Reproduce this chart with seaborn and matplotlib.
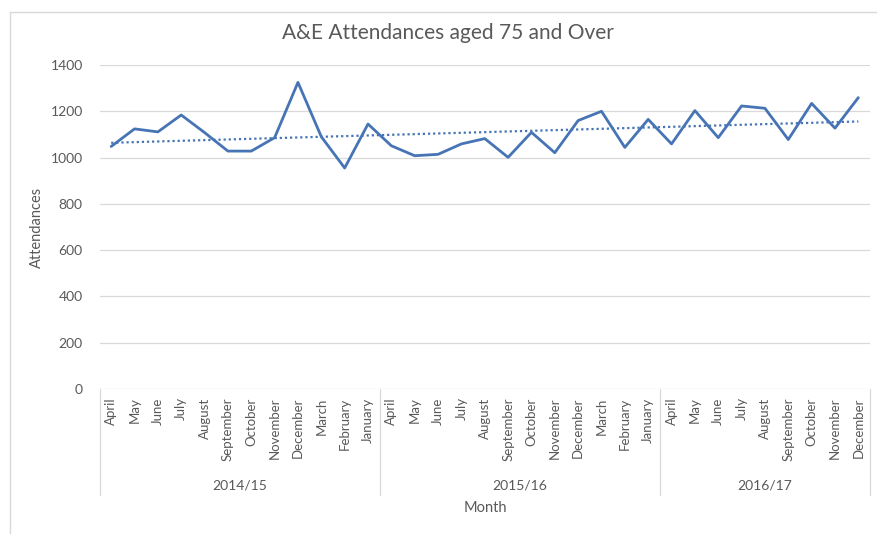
import numpy as np
import pandas as pd
import matplotlib
matplotlib.use("Agg")
import matplotlib.pyplot as plt
import matplotlib.transforms as mtransforms
import seaborn as sns

# ---------------------------------------------------------
# DATA
# ---------------------------------------------------------
years = ["2014/15", "2015/16", "2016/17"]
months_1415 = ["April", "May", "June", "July", "August", "September", "October",
               "November", "December", "March", "February", "January"]
months_1516 = ["April", "May", "June", "July", "August", "September", "October",
               "November", "December", "March", "February", "January"]
months_1617 = ["April", "May", "June", "July", "August", "September", "October",
               "November", "December"]

att_1415 = [1048, 1124, 1111, 1184, 1108, 1028, 1028, 1086, 1325, 1090, 955, 1145]
att_1516 = [1051, 1008, 1014, 1059, 1082, 1001, 1109, 1021, 1160, 1200, 1044, 1165]
att_1617 = [1059, 1203, 1086, 1223, 1213, 1078, 1234, 1127, 1259]

month_groups = [months_1415, months_1516, months_1617]
att_groups = [att_1415, att_1516, att_1617]

rows = []
for yr, ms, vs in zip(years, month_groups, att_groups):
    for m, v in zip(ms, vs):
        rows.append({"year": yr, "month": m, "attendances": v})
df = pd.DataFrame(rows)
df["idx"] = np.arange(len(df))

# linear trendline (like Excel)
coef = np.polyfit(df["idx"], df["attendances"], 1)
df["trend"] = np.polyval(coef, df["idx"])

# ---------------------------------------------------------
# PLOT
# ---------------------------------------------------------
sns.set_style("white")
plt.rcParams["font.family"] = ["Lato", "DejaVu Sans"]

W, H = 877, 534
fig = plt.figure(figsize=(W / 100, H / 100), dpi=100)
ax = fig.add_axes([99.5 / W, (H - 389) / H, (870 - 99.5) / W, (389 - 65) / H])

blue = "#4674b4"
grey_txt = "#595959"

sns.lineplot(data=df, x="idx", y="attendances", color=blue, lw=2.0, ax=ax)
sns.lineplot(data=df, x="idx", y="trend", color=blue, lw=1.6, ax=ax,
             linestyle=(0, (1, 1.3)))

ax.set_xlim(-0.5, len(df) - 0.5)
ax.set_ylim(0, 1400)
ax.set_yticks(range(0, 1401, 200))
ax.yaxis.grid(True, color="#d9d9d9", lw=0.9)
ax.set_axisbelow(True)
for s in ax.spines.values():
    s.set_visible(False)

ax.set_xticks(df["idx"])
ax.set_xticklabels(df["month"], rotation=90, fontsize=9.5, color=grey_txt)
ax.tick_params(axis="x", length=0, pad=6)
ax.tick_params(axis="y", length=0, labelsize=10, colors=grey_txt, pad=12)

ax.set_xlabel("")
ax.set_ylabel("Attendances", fontsize=10.5, color=grey_txt, labelpad=5)
fig.text(448 / W, 1 - 33 / H, "A&E Attendances aged 75 and Over",
         ha="center", va="center", fontsize=15, color=grey_txt)

# group labels and separators below the axis
trans = mtransforms.blended_transform_factory(ax.transData, ax.transAxes)
y_sep = -(495 - 389) / (389 - 65)
y_grp = -(485 - 389) / (389 - 65)
start = 0
bounds = [-0.5]
for yr, ms in zip(years, month_groups):
    end = start + len(ms)
    ax.text((start + end - 1) / 2, y_grp, yr, transform=trans, ha="center",
            va="center", fontsize=10, color=grey_txt)
    bounds.append(end - 0.5)
    start = end
for b in bounds:
    ax.plot([b, b], [0, y_sep], transform=trans, color="#d9d9d9", lw=0.9,
            clip_on=False)

fig.text(485 / W, 1 - 508 / H, "Month", ha="center", va="center",
         fontsize=10.5, color=grey_txt)

# chart area border
fig.add_artist(plt.Line2D([10 / W, 1], [1 - 12 / H, 1 - 12 / H],
                          transform=fig.transFigure, color="#d9d9d9", lw=1))
fig.add_artist(plt.Line2D([10 / W, 10 / W], [0, 1 - 12 / H],
                          transform=fig.transFigure, color="#d9d9d9", lw=1))

fig.savefig("out.png", dpi=100)
